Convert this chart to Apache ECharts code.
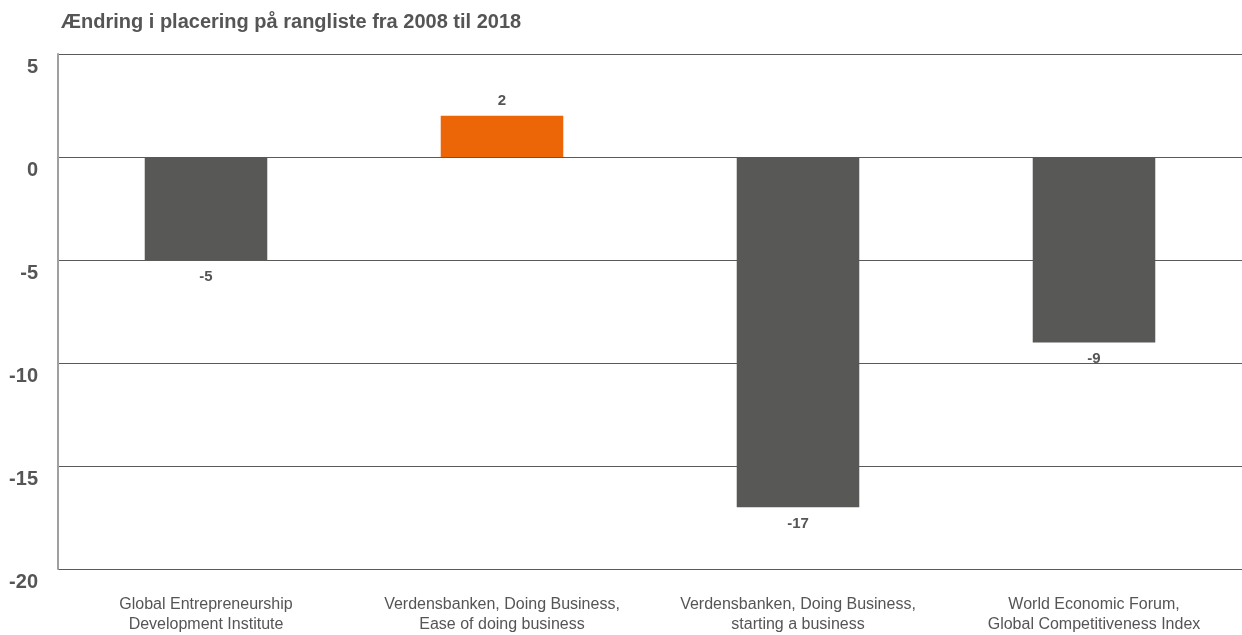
<!DOCTYPE html>
<html>
<head>
<meta charset="utf-8">
<script src="https://cdn.jsdelivr.net/npm/echarts@6/dist/echarts.min.js"></script>
<style>
html,body{margin:0;padding:0;background:#fff;}
#chart{width:1242px;height:635px;}
</style>
</head>
<body>
<div id="chart"></div>
<script>
const title = 'Ændring i placering på rangliste fra 2008 til 2018';
const categories = [
  'Global Entrepreneurship\nDevelopment Institute',
  'Verdensbanken, Doing Business,\nEase of doing business',
  'Verdensbanken, Doing Business,\nstarting a business',
  'World Economic Forum,\nGlobal Competitiveness Index'
];
const values = [-5, 2, -17, -9];
const yTicks = [5, 0, -5, -10, -15, -20];

const GRAY = '#585856';
const ORANGE = '#EC6608';
const TEXT = '#555555';
const FONT = '"Liberation Sans", Arial, Helvetica, sans-serif';

const chart = echarts.init(document.getElementById('chart'));
chart.setOption({
  backgroundColor: '#fff',
  animation: false,
  textStyle: {fontFamily: FONT},
  title: {
    text: title,
    left: 56, top: 7,
    textStyle: {fontFamily: FONT, fontSize: 20, fontWeight: 'bold', color: TEXT}
  },
  grid: {left: 58, right: 0, top: 54, bottom: 61, containLabel: false},
  xAxis: {
    type: 'category',
    data: categories,
    axisLine: {show: false},
    axisTick: {show: false},
    axisLabel: {
      interval: 0, margin: 26,
      fontFamily: FONT, fontSize: 16, lineHeight: 20, color: TEXT
    }
  },
  yAxis: {
    type: 'value',
    min: yTicks[yTicks.length - 1],
    max: yTicks[0],
    interval: 5,
    axisLine: {show: true, lineStyle: {color: '#a0a0a0', width: 2}},
    axisTick: {show: false},
    splitLine: {show: true, lineStyle: {color: '#5a5a5a', width: 1}},
    axisLabel: {
      margin: 20, fontFamily: FONT, fontSize: 20, fontWeight: 'bold', color: TEXT,
      verticalAlign: 'top', lineHeight: 20, padding: [3, 0, 0, 0]
    }
  },
  series: [{
    type: 'bar',
    barWidth: '41.4%',
    data: values.map(v => ({
      value: v,
      itemStyle: {color: v > 0 ? ORANGE : GRAY},
      label: {position: v >= 0 ? 'top' : 'bottom', distance: v >= 0 ? 7 : 9}
    })),
    label: {
      show: true,
      fontFamily: FONT, fontSize: 15, fontWeight: 'bold', color: TEXT
    }
  }]
});
</script>
</body>
</html>
